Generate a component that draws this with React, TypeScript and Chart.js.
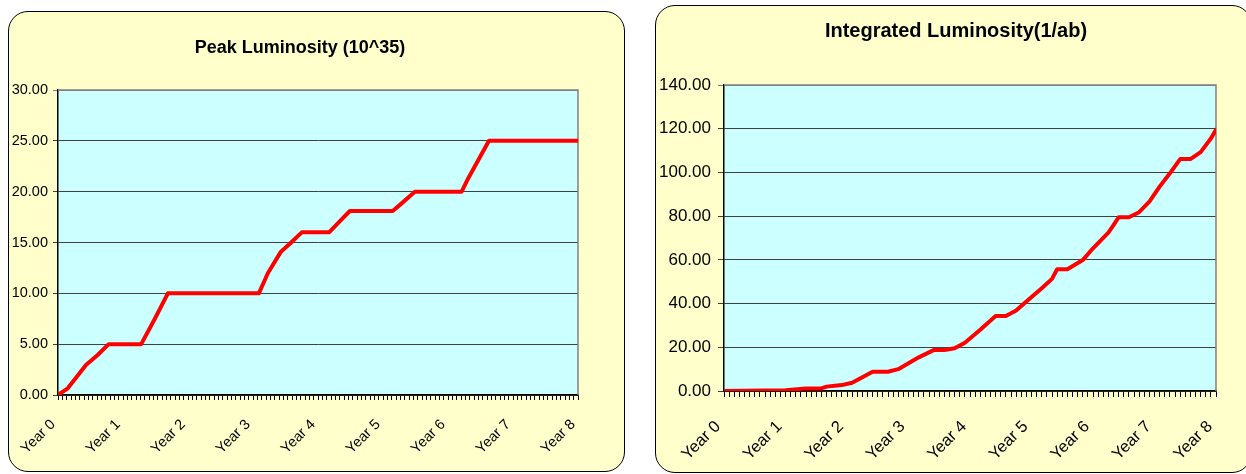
import React, { useEffect, useRef } from "react";
import { Chart, registerables } from "chart.js";

Chart.register(...registerables);

const FONT = "'Liberation Sans', Arial, Helvetica, sans-serif";
const PANEL_BG = "#FFFFCC";
const PLOT_BG = "#CCFFFF";
const LINE_RED = "#FF0000";

// Peak luminosity (10^35): x in years, y in units of 10^35
const peakYears = [0, 0.15, 0.31, 0.43, 0.61, 0.78, 1.28, 1.49, 1.69, 3.09, 3.23, 3.43, 3.57, 3.75, 4.17, 4.33, 4.49, 5.15, 5.26, 5.49, 6.21, 6.31, 6.63, 8];
const peakValues = [0, 0.66, 1.97, 2.95, 3.93, 5, 5, 7.5, 10, 10, 12, 14.1, 14.9, 16, 16, 17.05, 18.1, 18.1, 18.7, 20, 20, 21.3, 25, 25];

// Integrated luminosity (1/ab): x in months since start
const integratedMonths = [0, 12, 16, 19, 20, 23, 25, 29, 32, 34, 38, 41, 43, 45, 47, 50, 53, 55, 57, 59, 62, 64, 65, 67, 70, 72, 75, 76, 77, 79, 81, 83, 85, 87, 89, 91, 93, 95, 96];
const integratedValues = [0, 0.3, 1.2, 1.2, 2.0, 2.7, 3.8, 8.8, 8.8, 10.0, 15.4, 18.8, 18.8, 19.6, 22.1, 28.0, 34.3, 34.3, 36.8, 40.9, 47.0, 51.3, 55.7, 55.7, 59.9, 65.3, 72.5, 75.9, 79.5, 79.5, 81.8, 86.6, 93.5, 99.6, 106.1, 106.1, 109.3, 115.5, 119.5];

const YEAR_COUNT = 8;

type PanelSpec = {
  title: string;
  titleSize: number;
  titleX: number;
  titleY: number;
  xs: number[];
  ys: number[];
  yMax: number;
  yStep: number;
  ticksPerYear: number;
  yAxisWidth: number;
  xAxisHeight: number;
  padTop: number;
  padRight: number;
  yTickLen: number;
  yTickPad: number;
  yFontSize: number;
  xTickLen: number;
  xTickPad: number;
  xLabelOffset: number;
  xFontSize: number;
};

function buildConfig(s: PanelSpec): any {
  const points = s.xs.map((x, i) => ({ x, y: s.ys[i] }));

  const plotFrame = {
    id: "plotFrame",
    beforeDraw(chart: any) {
      const { ctx, chartArea: a } = chart;
      ctx.save();
      ctx.fillStyle = PLOT_BG;
      ctx.fillRect(a.left, a.top, a.right - a.left, a.bottom - a.top);
      ctx.restore();
    },
    beforeDatasetsDraw(chart: any) {
      const { ctx, chartArea: a } = chart;
      ctx.save();
      ctx.strokeStyle = "#808080";
      ctx.lineWidth = 1.5;
      ctx.beginPath();
      ctx.moveTo(a.left, a.top);
      ctx.lineTo(a.right, a.top);
      ctx.lineTo(a.right, a.bottom);
      ctx.stroke();
      ctx.restore();
    },
    afterDraw(chart: any) {
      const { ctx } = chart;
      ctx.save();
      ctx.font = `bold ${s.titleSize}px ${FONT}`;
      ctx.fillStyle = "#000";
      ctx.textAlign = "center";
      ctx.textBaseline = "alphabetic";
      ctx.fillText(s.title, s.titleX, s.titleY);
      ctx.restore();
    },
  };

  return {
    type: "line",
    data: {
      datasets: [
        {
          data: points,
          borderColor: LINE_RED,
          borderWidth: 4,
          pointRadius: 0,
          tension: 0,
          fill: false,
          borderJoinStyle: "round",
          borderCapStyle: "round",
        },
      ],
    },
    options: {
      animation: false,
      responsive: false,
      maintainAspectRatio: false,
      parsing: false,
      layout: { padding: { top: s.padTop, right: s.padRight, left: 0, bottom: 0 } },
      plugins: {
        legend: { display: false },
        title: { display: false },
        tooltip: { enabled: false },
      },
      scales: {
        x: {
          type: "linear",
          min: 0,
          max: YEAR_COUNT,
          afterBuildTicks: (scale: any) => {
            const n = YEAR_COUNT * s.ticksPerYear;
            scale.ticks = Array.from({ length: n + 1 }, (_, i) => ({ value: i / s.ticksPerYear }));
          },
          afterFit: (scale: any) => {
            scale.height = s.xAxisHeight;
          },
          grid: {
            drawOnChartArea: false,
            drawTicks: true,
            tickLength: s.xTickLen,
            color: "#000",
            lineWidth: 1,
          },
          border: { display: true, color: "#000", width: 1.5 },
          ticks: {
            autoSkip: false,
            minRotation: 45,
            maxRotation: 45,
            padding: s.xTickPad,
            labelOffset: s.xLabelOffset,
            color: "#000",
            font: { family: FONT, size: s.xFontSize },
            callback: (v: number) => {
              const r = Math.round(v);
              return Math.abs(v - r) < 1e-6 ? `Year ${r}` : "";
            },
          },
        },
        y: {
          type: "linear",
          min: 0,
          max: s.yMax,
          afterFit: (scale: any) => {
            scale.width = s.yAxisWidth;
          },
          grid: {
            drawTicks: true,
            tickLength: s.yTickLen,
            lineWidth: 1,
            color: (c: any) => (c.tick && c.tick.value === s.yMax ? "#808080" : "#404040"),
          },
          border: { display: true, color: "#000", width: 1.5 },
          ticks: {
            stepSize: s.yStep,
            padding: s.yTickPad,
            color: "#000",
            font: { family: FONT, size: s.yFontSize },
            callback: (v: number) => Number(v).toFixed(2),
          },
        },
      },
    },
    plugins: [plotFrame],
  };
}

type PanelProps = {
  left: number;
  top: number;
  width: number;
  height: number;
  spec: PanelSpec;
};

function Panel({ left, top, width, height, spec }: PanelProps) {
  const ref = useRef<HTMLCanvasElement | null>(null);
  useEffect(() => {
    if (!ref.current) return;
    const chart = new Chart(ref.current, buildConfig(spec));
    return () => chart.destroy();
  }, []);
  return (
    <>
      <div
        style={{
          position: "absolute",
          left,
          top,
          width,
          height,
          boxSizing: "border-box",
          border: "1.5px solid #000",
          borderRadius: 20,
          background: PANEL_BG,
        }}
      />
      <canvas
        ref={ref}
        width={width}
        height={height}
        style={{ position: "absolute", left, top, width, height }}
      />
    </>
  );
}

const peakSpec: PanelSpec = {
  title: "Peak Luminosity (10^35)",
  titleSize: 18,
  titleX: 292,
  titleY: 42,
  xs: peakYears,
  ys: peakValues,
  yMax: 30,
  yStep: 5,
  ticksPerYear: 15,
  yAxisWidth: 50,
  xAxisHeight: 77,
  padTop: 79,
  padRight: 47,
  yTickLen: 5,
  yTickPad: 5,
  yFontSize: 14.5,
  xTickLen: 5,
  xTickPad: 16,
  xLabelOffset: -5,
  xFontSize: 14.5,
};

const integratedSpec: PanelSpec = {
  title: "Integrated Luminosity(1/ab)",
  titleSize: 20,
  titleX: 301,
  titleY: 32,
  xs: integratedMonths.map((m) => m / 12),
  ys: integratedValues,
  yMax: 140,
  yStep: 20,
  ticksPerYear: 12,
  yAxisWidth: 69,
  xAxisHeight: 82,
  padTop: 80,
  padRight: 36,
  yTickLen: 6,
  yTickPad: 7,
  yFontSize: 17,
  xTickLen: 6,
  xTickPad: 20,
  xLabelOffset: -6,
  xFontSize: 16.5,
};

export default function App() {
  return (
    <div
      style={{
        position: "absolute",
        left: 0,
        top: 0,
        width: 1246,
        height: 474,
        overflow: "hidden",
        background: "#fff",
        fontFamily: FONT,
      }}
    >
      <Panel left={8} top={11} width={617} height={461} spec={peakSpec} />
      <Panel left={655} top={5} width={597} height={468} spec={integratedSpec} />
    </div>
  );
}
